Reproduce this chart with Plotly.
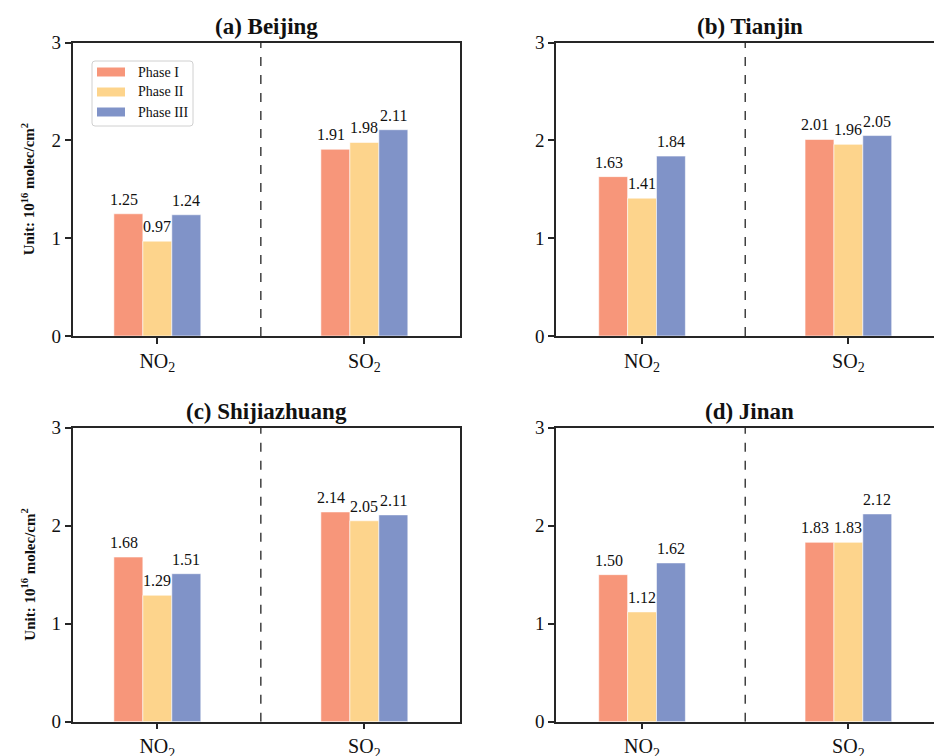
import plotly.graph_objects as go

# Column densities (10^16 molec/cm^2) by city, pollutant and phase
pollutants = ["NO<sub>2</sub>", "SO<sub>2</sub>"]
phases = ["Phase I", "Phase II", "Phase III"]
titles = ["(a) Beijing", "(b) Tianjin", "(c) Shijiazhuang", "(d) Jinan"]

beijing = [[1.25, 1.91], [0.97, 1.98], [1.24, 2.11]]
tianjin = [[1.63, 2.01], [1.41, 1.96], [1.84, 2.05]]
shijiazhuang = [[1.68, 2.14], [1.29, 2.05], [1.51, 2.11]]
jinan = [[1.50, 1.83], [1.12, 1.83], [1.62, 2.12]]
city_values = [beijing, tianjin, shijiazhuang, jinan]

colors = ["#F7967A", "#FDD48C", "#8093C8"]
bar_width = 0.14
centers = [-0.14, 0.0, 0.14]

W, H = 934, 756
FONT = "Liberation Serif, Times New Roman, Times, serif"
AXIS_COLOR = "#262626"


def px_x(v):
    return v / W


def px_y(v):
    return 1 - v / H


def rounded_rect(x0, y0, x1, y1, r):
    """SVG path of a rounded rectangle given in pixels, returned in paper units."""
    pts = [
        f"M {px_x(x0 + r)},{px_y(y0)}",
        f"L {px_x(x1 - r)},{px_y(y0)}",
        f"Q {px_x(x1)},{px_y(y0)} {px_x(x1)},{px_y(y0 + r)}",
        f"L {px_x(x1)},{px_y(y1 - r)}",
        f"Q {px_x(x1)},{px_y(y1)} {px_x(x1 - r)},{px_y(y1)}",
        f"L {px_x(x0 + r)},{px_y(y1)}",
        f"Q {px_x(x0)},{px_y(y1)} {px_x(x0)},{px_y(y1 - r)}",
        f"L {px_x(x0)},{px_y(y0 + r)}",
        f"Q {px_x(x0)},{px_y(y0)} {px_x(x0 + r)},{px_y(y0)} Z",
    ]
    return " ".join(pts)


# Panel placement: (x domain, y domain, x range, y mirrored)
panels = [
    ([0.0778, 0.4925], [0.5556, 0.9435], [-0.409, 1.462], True),
    ([0.5953, 1.0], [0.5556, 0.9435], [-0.417, 1.415], False),
    ([0.0778, 0.4925], [0.0454, 0.4343], [-0.409, 1.462], True),
    ([0.5953, 1.0], [0.0454, 0.4343], [-0.417, 1.415], False),
]
panel_width = 0.4925 - 0.0778

fig = go.Figure()
annotations = []
shapes = []
layout = {}

for i, (values, title, (xd, yd, xr, ymirror)) in enumerate(zip(city_values, titles, panels)):
    n = "" if i == 0 else str(i + 1)
    xa, ya = "x" + n, "y" + n
    for p, phase in enumerate(phases):
        fig.add_trace(go.Bar(
            x=[0, 1], y=values[p], xaxis=xa, yaxis=ya,
            name=phase, showlegend=False,
            width=bar_width, offset=centers[p] - bar_width / 2,
            marker=dict(color=colors[p], line=dict(color="rgba(255,255,255,0.7)", width=0.8)),
            hoverinfo="skip",
        ))
        for k, v in enumerate(values[p]):
            annotations.append(dict(
                x=k + centers[p], y=v, xref=xa, yref=ya,
                text=f"{v:.2f}", showarrow=False, yanchor="bottom",
                yshift=4, xshift=-4 if p == 0 else 0,
                font=dict(family=FONT, size=16, color="#111"),
            ))
    # dashed divider between the two pollutant groups
    shapes.append(dict(type="line", xref=xa, yref=ya, x0=0.5, x1=0.5, y0=0, y1=3,
                       line=dict(color="#222", width=1.3, dash="dash")))
    # panel title, centred over the full panel width
    annotations.append(dict(
        x=xd[0] + panel_width / 2, y=yd[1], xref="paper", yref="paper",
        xanchor="center", yanchor="bottom", yshift=2,
        text=f"<b>{title}</b>", showarrow=False,
        font=dict(family=FONT, size=23, color="#111"),
    ))
    if i % 2 == 0:
        annotations.append(dict(
            x=px_x(28), y=(yd[0] + yd[1]) / 2, xref="paper", yref="paper",
            xanchor="center", yanchor="middle",
            text="<b>Unit: 10<sup>16</sup> molec/cm<sup>2</sup></b>", textangle=-90,
            showarrow=False, font=dict(family=FONT, size=15, color="#111"),
        ))
    layout["xaxis" + n] = dict(
        domain=xd, range=xr, anchor=ya, tickmode="array", tickvals=[0, 1],
        ticktext=pollutants, ticks="outside", ticklen=6, tickwidth=2, tickcolor=AXIS_COLOR,
        showline=True, linecolor=AXIS_COLOR, linewidth=1.6, mirror=True,
        showgrid=False, zeroline=False, fixedrange=True, automargin=False,
        tickfont=dict(family=FONT, size=20, color="#111"),
    )
    layout["yaxis" + n] = dict(
        domain=yd, range=[0, 3], anchor=xa, tickmode="array", tickvals=[0, 1, 2, 3],
        ticks="outside", ticklen=6, tickwidth=1.6, tickcolor=AXIS_COLOR,
        showline=True, linecolor=AXIS_COLOR, linewidth=1.6, mirror=ymirror,
        showgrid=False, zeroline=False, fixedrange=True, automargin=False,
        tickfont=dict(family=FONT, size=19, color="#111"),
    )

# Legend box for the three phases, drawn in panel (a)
legend_rows = [72, 92, 112]
shapes.append(dict(
    type="path", xref="paper", yref="paper",
    path=rounded_rect(92, 61, 193, 126, 3),
    line=dict(color="#d0d0d0", width=1), fillcolor="rgba(255,255,255,0.8)",
))
for phase, color, row in zip(phases, colors, legend_rows):
    shapes.append(dict(
        type="rect", xref="paper", yref="paper",
        x0=px_x(97), x1=px_x(125), y0=px_y(row + 4.5), y1=px_y(row - 4.5),
        line=dict(width=0), fillcolor=color,
    ))
    annotations.append(dict(
        x=px_x(136), y=px_y(row), xref="paper", yref="paper",
        xanchor="left", yanchor="middle", text=phase, showarrow=False,
        font=dict(family=FONT, size=14, color="#111"),
    ))

fig.update_layout(
    template="none",
    width=W, height=H, margin=dict(l=0, r=0, t=0, b=0, pad=0),
    paper_bgcolor="white", plot_bgcolor="white", showlegend=False,
    barmode="overlay", annotations=annotations, shapes=shapes,
    **layout,
)

fig.write_html("out.html")
